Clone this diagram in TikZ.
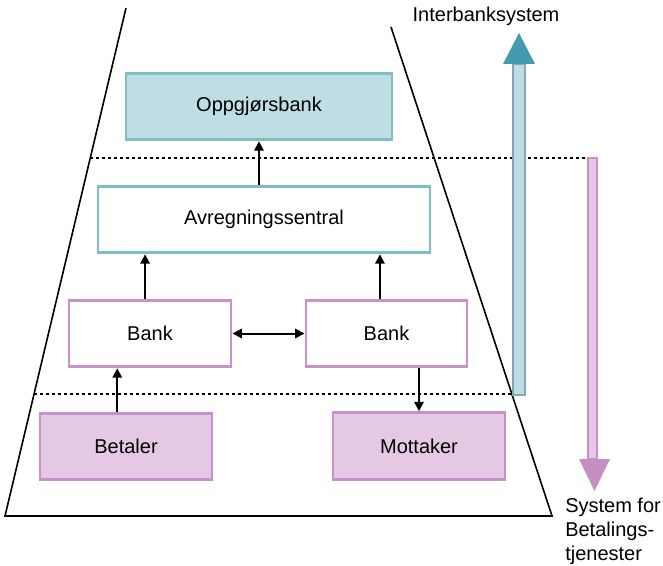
\documentclass[tikz,border=0pt]{standalone}
\usepackage{fontspec}
\setmainfont{Liberation Sans}
\usetikzlibrary{calc,arrows.meta}
\definecolor{tealline}{RGB}{127,190,199}
\definecolor{tealfill}{RGB}{191,222,227}
\definecolor{tealdark}{RGB}{132,169,176}
\definecolor{tealhead}{RGB}{66,156,174}
\definecolor{pinkline}{RGB}{198,146,200}
\definecolor{pinkfill}{RGB}{229,201,228}
\definecolor{pinkhead}{RGB}{198,143,196}

\begin{document}
\begin{tikzpicture}[x=0.75pt,y=-0.75pt,>={Triangle[length=7pt,width=7pt]},
    box/.style={draw,line width=2.2pt,minimum height=50pt,font=\fontsize{15}{18}\selectfont},
    tealbox/.style={box,draw=tealline},
    pinkbox/.style={box,draw=pinkline},
    flow/.style={->,line width=1.5pt},
    sep/.style={line width=2pt,dash pattern=on 2pt off 2.5pt},
    ]
    \useasboundingbox (0,0) rectangle (663,566);
    \draw[line width=1.2pt] (126,8) -- (5,516) -- (552,516) -- (391,27);
    % levels
    \draw[sep] (90,158) -- (592,158);
    \draw[sep] (34,394) -- (519,394);
    % teal arrow
    \coordinate (ib0) at (513,395);
    \coordinate (ib1) at (525,64);
    \filldraw[fill=tealfill,draw=tealdark,line width=2.2pt] (ib0) rectangle (ib1);
    \fill[tealhead] (503,64) -- (519,33) -- (535,64) -- cycle;
    % pink arrow
    \coordinate (bt0) at (588,158);
    \coordinate (bt1) at (597,459);
    \filldraw[fill=pinkfill,draw=pinkline,line width=2.2pt] (bt0) rectangle (bt1);
    \fill[pinkhead] (579,459) -- (594.5,491) -- (610,459) -- cycle;
    % boxes
    \node[tealbox,fill=tealfill,minimum width=199.5pt] (opp) at (259,106.5) {Oppgjørsbank};
    \node[tealbox,fill=white,minimum width=249pt] (avr) at (264,219.5) {Avregningssentral};
    \node[pinkbox,fill=white,minimum width=121.5pt] (bankL) at (150,333.5) {Bank};
    \node[pinkbox,fill=white,minimum width=120.75pt] (bankR) at (386.5,333.5) {Bank};
    \node[pinkbox,fill=pinkfill,minimum width=129pt] (bet) at (126,446.5) {Betaler};
    \node[pinkbox,fill=pinkfill,minimum width=129pt] (mot) at (419,446) {Mottaker};
    \draw[flow] (avr.north -| opp.south) -- (opp.south);
    \draw[flow] ($(bankL.north west)!0.47!(bankL.north east)$) coordinate (l1) -- (l1 |- avr.south);
    \draw[flow] ($(bankR.north west)!0.46!(bankR.north east)$) coordinate (r1) -- (r1 |- avr.south);
    \draw[<->,line width=1.5pt] (bankL.east) -- (bankR.west);
    \draw[flow] ($(bet.north west)!0.45!(bet.north east)$) coordinate (b1) -- (b1 |- bankL.south);
    \draw[flow] (mot.north |- bankR.south) -- (mot.north);
    % labels
    \node[font=\fontsize{15}{18}\selectfont] (inter) at (486,16) {Interbanksystem};
    \node[font=\fontsize{15}{18}\selectfont,align=left,anchor=north west,inner sep=0pt] (btj) at (565,498)
        {System for\\Betalings-\\tjenester};
\end{tikzpicture}
\end{document}
